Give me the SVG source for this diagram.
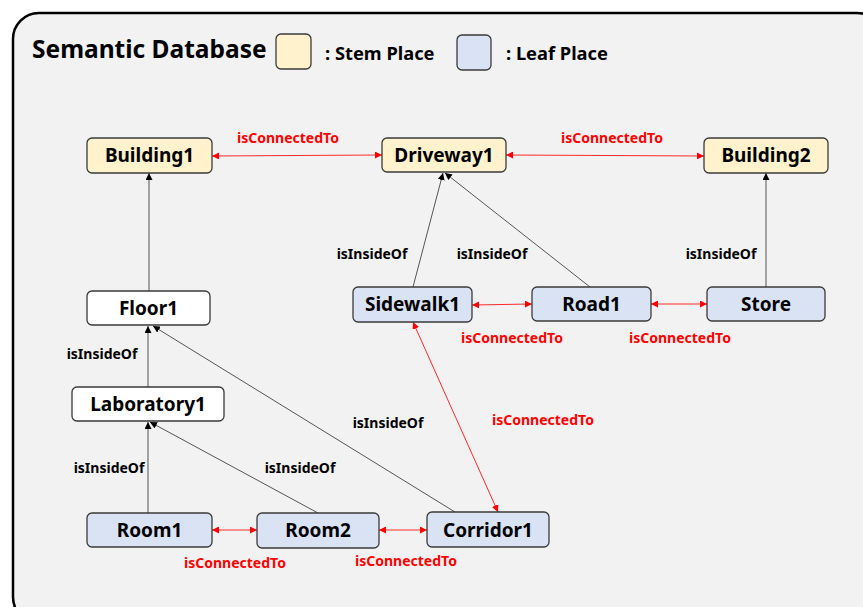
<svg xmlns="http://www.w3.org/2000/svg" width="863" height="607" viewBox="0 0 863 607">
<style>
.node rect{stroke:#3a3a3a;stroke-width:1.3}
.stem rect{fill:#fff2cc}
.leaf rect{fill:#dae3f3}
.plain rect{fill:#ffffff}
.node text{font-family:"Noto Sans","Open Sans",sans-serif;font-weight:bold;font-size:19px;fill:#000;text-anchor:middle}
.ins{stroke:#555;stroke-width:1;fill:none;marker-end:url(#ab)}
.con{stroke:#ff2a2a;stroke-width:1;fill:none;marker-end:url(#ar);marker-start:url(#ar)}
.lbl{font-family:"Noto Sans","Open Sans",sans-serif;font-weight:bold;font-size:14px;text-anchor:middle}
.lr{fill:#ff0000}
.lb{fill:#000}
.leg{font-family:"Noto Sans","Open Sans",sans-serif;font-weight:bold}
</style>
<defs>
<marker id="ab" viewBox="0 0 10 10" refX="10" refY="5" markerWidth="7" markerHeight="7" markerUnits="userSpaceOnUse" orient="auto-start-reverse"><path d="M0,0 L10,5 L0,10 z" fill="#000"/></marker>
<marker id="ar" viewBox="0 0 10 10" refX="10" refY="5" markerWidth="7" markerHeight="7" markerUnits="userSpaceOnUse" orient="auto-start-reverse"><path d="M0,0 L10,5 L0,10 z" fill="#ff0000"/></marker>
</defs>
<rect x="13" y="13" width="870" height="610" rx="26" fill="#f2f2f2" stroke="#000" stroke-width="2.5"/>
<g id="legend">
<text class="leg" x="32" y="58" font-size="24.5">Semantic Database</text>
<rect x="276" y="34" width="35" height="35" rx="5" fill="#fff2cc" stroke="#3a3a3a" stroke-width="1.3"/>
<text class="leg" x="325" y="60" font-size="18.3">: Stem Place</text>
<rect x="457" y="35" width="34" height="35" rx="5" fill="#dae3f3" stroke="#3a3a3a" stroke-width="1.3"/>
<text class="leg" x="506" y="60" font-size="18.3">: Leaf Place</text>
</g>
<g id="connectors">
<line class="ins" x1="149" y1="291" x2="149" y2="173"/>
<line class="ins" x1="148" y1="387" x2="148" y2="326"/>
<line class="ins" x1="148" y1="513" x2="148" y2="422"/>
<line class="ins" x1="318" y1="513" x2="150" y2="422"/>
<line class="ins" x1="455" y1="512" x2="153" y2="326"/>
<line class="ins" x1="413" y1="287" x2="443" y2="173"/>
<line class="ins" x1="590" y1="287" x2="445" y2="173"/>
<line class="ins" x1="766" y1="287" x2="766" y2="173"/>
<line class="con" x1="212" y1="156" x2="382" y2="155"/>
<line class="con" x1="506" y1="155" x2="704" y2="156"/>
<line class="con" x1="472" y1="305" x2="532" y2="304"/>
<line class="con" x1="651" y1="304" x2="707" y2="304"/>
<line class="con" x1="212" y1="530" x2="257" y2="530"/>
<line class="con" x1="379" y1="530" x2="427" y2="530"/>
<line class="con" x1="413" y1="322" x2="498" y2="512"/>
<text class="lbl lr" x="288" y="143">isConnectedTo</text>
<text class="lbl lr" x="612" y="143">isConnectedTo</text>
<text class="lbl lr" x="512" y="343">isConnectedTo</text>
<text class="lbl lr" x="680" y="343">isConnectedTo</text>
<text class="lbl lr" x="235" y="568">isConnectedTo</text>
<text class="lbl lr" x="406" y="566">isConnectedTo</text>
<text class="lbl lr" x="543" y="425">isConnectedTo</text>
<text class="lbl lb" x="372" y="259">isInsideOf</text>
<text class="lbl lb" x="492" y="259">isInsideOf</text>
<text class="lbl lb" x="721" y="259">isInsideOf</text>
<text class="lbl lb" x="102" y="359">isInsideOf</text>
<text class="lbl lb" x="388" y="428">isInsideOf</text>
<text class="lbl lb" x="109" y="473">isInsideOf</text>
<text class="lbl lb" x="300" y="473">isInsideOf</text>
</g>
<g id="Building1" class="node stem"><rect x="87" y="138" width="125" height="35" rx="5"/><text x="149.5" y="162">Building1</text></g>
<g id="Driveway1" class="node stem"><rect x="382" y="138" width="124" height="34" rx="5"/><text x="444" y="162">Driveway1</text></g>
<g id="Building2" class="node stem"><rect x="704" y="138" width="124" height="35" rx="5"/><text x="766" y="162">Building2</text></g>
<g id="Floor1" class="node plain"><rect x="87" y="291" width="123" height="34" rx="5"/><text x="148.5" y="315">Floor1</text></g>
<g id="Sidewalk1" class="node leaf"><rect x="353" y="287" width="119" height="35" rx="5"/><text x="412.5" y="311">Sidewalk1</text></g>
<g id="Road1" class="node leaf"><rect x="532" y="287" width="119" height="34" rx="5"/><text x="591.5" y="311">Road1</text></g>
<g id="Store" class="node leaf"><rect x="707" y="287" width="118" height="34" rx="5"/><text x="766" y="311">Store</text></g>
<g id="Laboratory1" class="node plain"><rect x="72" y="387" width="152" height="34" rx="5"/><text x="148" y="411">Laboratory1</text></g>
<g id="Room1" class="node leaf"><rect x="87" y="513" width="125" height="34" rx="5"/><text x="149.5" y="537">Room1</text></g>
<g id="Room2" class="node leaf"><rect x="257" y="513" width="122" height="35" rx="5"/><text x="318" y="537">Room2</text></g>
<g id="Corridor1" class="node leaf"><rect x="427" y="512" width="122" height="35" rx="5"/><text x="488" y="537">Corridor1</text></g>
</svg>
